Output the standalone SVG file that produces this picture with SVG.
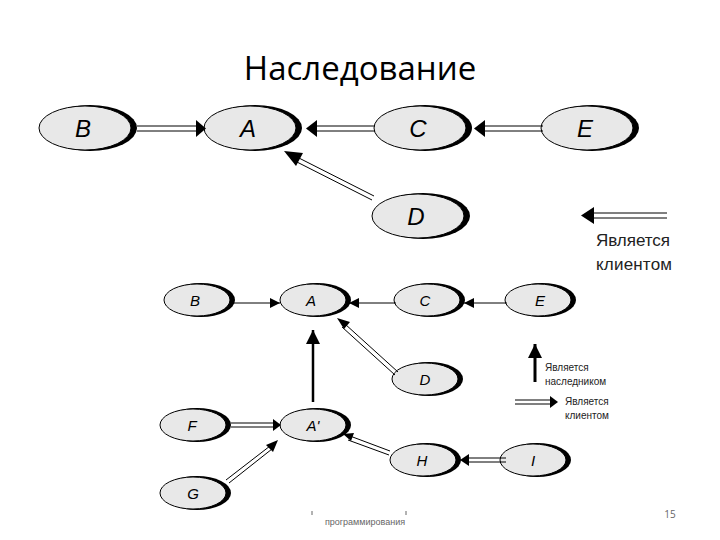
<svg xmlns="http://www.w3.org/2000/svg" width="720" height="540" viewBox="0 0 720 540">
<style>
.sh{fill:#000}
.nd{fill:#e8e8e8;stroke:#000;stroke-width:1}
.lb{font-family:"Liberation Sans",Arial,sans-serif;font-style:italic;text-anchor:middle}
.big{font-size:24px}
.sm{font-size:15px}
.dl{stroke:#000;stroke-width:1;fill:none}
.lg{font-family:"Liberation Sans",Arial,sans-serif;fill:#222}
</style>
<defs>
<marker id="h" viewBox="0 0 10 10" refX="10" refY="5" markerWidth="10" markerHeight="10" markerUnits="userSpaceOnUse" orient="auto"><path d="M0,0L10,5L0,10z"/></marker>
<marker id="hb" viewBox="0 0 10 10" refX="10" refY="5" markerWidth="14" markerHeight="14" markerUnits="userSpaceOnUse" orient="auto"><path d="M0,0L10,5L0,10z"/></marker>
</defs>
<rect width="720" height="540" fill="#fff"/>
<text x="360" y="80" font-family="'Open Sans','Liberation Sans',sans-serif" font-size="33" text-anchor="middle">Наследование</text>

<g id="top-B"><ellipse cx="90" cy="128" rx="47" ry="23" class="sh"/><ellipse cx="85" cy="128" rx="46" ry="22" class="nd"/><text x="83" y="137" class="lb big">B</text></g>
<g id="top-A"><ellipse cx="255" cy="128" rx="47" ry="23" class="sh"/><ellipse cx="250" cy="128" rx="46" ry="22" class="nd"/><text x="248" y="137" class="lb big">A</text></g>
<g id="top-C"><ellipse cx="425" cy="128" rx="47" ry="23" class="sh"/><ellipse cx="420" cy="128" rx="46" ry="22" class="nd"/><text x="418" y="137" class="lb big">C</text></g>
<g id="top-E"><ellipse cx="592" cy="128" rx="47" ry="23" class="sh"/><ellipse cx="587" cy="128" rx="46" ry="22" class="nd"/><text x="585" y="137" class="lb big">E</text></g>
<g id="top-D"><ellipse cx="423" cy="216" rx="47" ry="23" class="sh"/><ellipse cx="418" cy="216" rx="46" ry="22" class="nd"/><text x="416" y="225" class="lb big">D</text></g>

<g id="bot-B"><ellipse cx="201" cy="300" rx="34" ry="17" class="sh"/><ellipse cx="197" cy="300" rx="33" ry="16" class="nd"/><text x="195" y="306" class="lb sm">B</text></g>
<g id="bot-A"><ellipse cx="317" cy="300" rx="34" ry="17" class="sh"/><ellipse cx="313" cy="300" rx="33" ry="16" class="nd"/><text x="311" y="306" class="lb sm">A</text></g>
<g id="bot-C"><ellipse cx="431" cy="300" rx="34" ry="17" class="sh"/><ellipse cx="427" cy="300" rx="33" ry="16" class="nd"/><text x="425" y="306" class="lb sm">C</text></g>
<g id="bot-E"><ellipse cx="542" cy="300" rx="34" ry="17" class="sh"/><ellipse cx="538" cy="300" rx="33" ry="16" class="nd"/><text x="540" y="306" class="lb sm">E</text></g>
<g id="bot-D"><ellipse cx="429" cy="379" rx="34" ry="17" class="sh"/><ellipse cx="425" cy="379" rx="33" ry="16" class="nd"/><text x="425" y="385" class="lb sm">D</text></g>
<g id="bot-F"><ellipse cx="197" cy="425" rx="34" ry="17" class="sh"/><ellipse cx="193" cy="425" rx="33" ry="16" class="nd"/><text x="192" y="431" class="lb sm">F</text></g>
<g id="bot-A2"><ellipse cx="317" cy="425" rx="34" ry="17" class="sh"/><ellipse cx="313" cy="425" rx="33" ry="16" class="nd"/><text x="313" y="431" class="lb sm">A'</text></g>
<g id="bot-H"><ellipse cx="427" cy="460" rx="34" ry="17" class="sh"/><ellipse cx="423" cy="460" rx="33" ry="16" class="nd"/><text x="422" y="466" class="lb sm">H</text></g>
<g id="bot-I"><ellipse cx="537" cy="460" rx="34" ry="17" class="sh"/><ellipse cx="533" cy="460" rx="33" ry="16" class="nd"/><text x="533" y="466" class="lb sm">I</text></g>
<g id="bot-G"><ellipse cx="197" cy="493" rx="34" ry="17" class="sh"/><ellipse cx="193" cy="493" rx="33" ry="16" class="nd"/><text x="193" y="499" class="lb sm">G</text></g>

<g id="connectors">
<path class="dl" d="M137,126H200M137,131H200"/><path d="M196,120L206,128.5L196,137z"/>
<path class="dl" d="M375,126H313M375,131H313"/><path d="M317,120L306,128.5L317,137z"/>
<path class="dl" d="M543,126H481M543,131H481"/><path d="M485,120L474,128.5L485,137z"/>
<path class="dl" d="M374,196L293,155M372,200L291,159"/><path d="M284,151L303,153L296,166z"/>
<path class="dl" d="M667,213H590M667,218H590"/><path d="M594,207L581,215.5L594,224z"/>
<line x1="232" y1="303" x2="280" y2="303" stroke="#000" marker-end="url(#h)"/>
<line x1="396" y1="303" x2="349" y2="303" stroke="#000" marker-end="url(#h)"/>
<line x1="507" y1="303" x2="464" y2="303" stroke="#000" marker-end="url(#h)"/>
<path class="dl" d="M398,372L345,324M395,375L342,327"/><path d="M337,318L350,322L344,329z"/>
<line x1="313" y1="402" x2="313" y2="330" stroke="#000" stroke-width="2.5" marker-end="url(#hb)"/>
<path class="dl" d="M231,423H274M231,427H274"/><path d="M273,419L281,425L273,431z"/>
<path class="dl" d="M226,480L270,446M229,483L272,449"/><path d="M278,440L273,452L266,445z"/>
<path class="dl" d="M390,451L350,436M389,455L348,440"/><path d="M343,434L354,433L351,441z"/>
<path class="dl" d="M506,458H467M506,462H467"/><path d="M469,454L460,460L469,466z"/>
<line x1="535" y1="382" x2="535" y2="344" stroke="#000" stroke-width="3" marker-end="url(#hb)"/>
<path class="dl" d="M515,400H551M515,404H551"/><path d="M550,396L558,402L550,408z"/>
</g>
<text x="596" y="246" class="lg" font-size="17" textLength="74">Является</text>
<text x="596" y="270" class="lg" font-size="17" textLength="76">клиентом</text>
<text x="545" y="371" class="lg" font-size="10">Является</text>
<text x="545" y="385" class="lg" font-size="10">наследником</text>
<text x="565" y="405" class="lg" font-size="10">Является</text>
<text x="565" y="419" class="lg" font-size="10">клиентом</text>
<text x="365" y="525" font-family="'Liberation Sans',sans-serif" font-size="9" fill="#666" text-anchor="middle">программирования</text>
<line x1="312" y1="511" x2="312" y2="515" stroke="#666"/><line x1="406" y1="511" x2="406" y2="515" stroke="#666"/>
<text x="670" y="518" font-family="'Open Sans',sans-serif" font-size="10" fill="#666" text-anchor="middle">15</text>
</svg>
